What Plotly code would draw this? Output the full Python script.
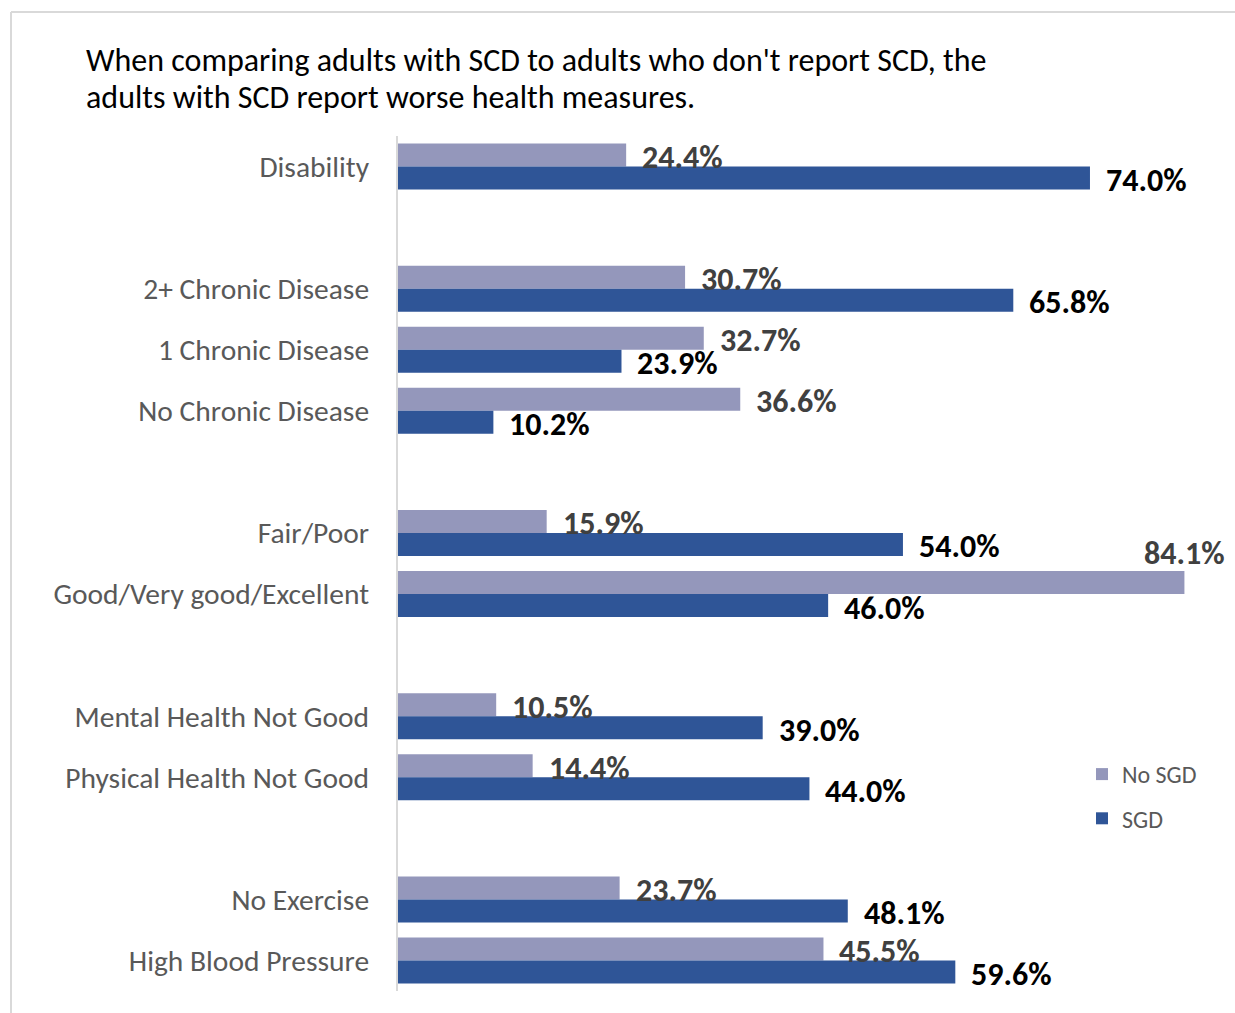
import plotly.graph_objects as go

# Health measures, grouped; a blank row separates each group
groups = [
    ["Disability"],
    ["2+ Chronic Disease", "1 Chronic Disease", "No Chronic Disease"],
    ["Fair/Poor", "Good/Very good/Excellent"],
    ["Mental Health Not Good", "Physical Health Not Good"],
    ["No Exercise", "High Blood Pressure"],
]
no_sgd = [24.4, 30.7, 32.7, 36.6, 15.9, 84.1, 10.5, 14.4, 23.7, 45.5]
sgd = [74.0, 65.8, 23.9, 10.2, 54.0, 46.0, 39.0, 44.0, 48.1, 59.6]
series_names = ["No SGD", "SGD"]
series_colors = ["#9497BB", "#2F5597"]
label_colors = ["#404040", "#000000"]

title_lines = [
    "When comparing adults with SCD to adults who don't report SCD, the",
    "adults with SCD report worse health measures.",
]

# row index for each category, leaving one empty row between groups
categories, rows = [], []
r = 0
for g in groups:
    for name in g:
        categories.append(name)
        rows.append(r)
        r += 1
    r += 1
last_row = rows[-1]

W, H = 1235, 1013
L, R, T, B = 398, 0, 136, 22
plot_w = W - L - R
plot_h = H - T - B
x_max = plot_w / 9.351

FONT = "Calibri, Carlito, Lato, sans-serif"
LABEL_SIZE = 32


def px_x(px):
    return (px - L) / plot_w


def px_y(py):
    return 1 - (py - T) / plot_h


fig = go.Figure()
for name, vals, col in zip(series_names, [no_sgd, sgd], series_colors):
    fig.add_trace(go.Bar(
        y=rows, x=vals, name=name, orientation="h",
        marker=dict(color=col, line=dict(width=0)),
        legendgroup=name, hoverinfo="skip",
    ))

annotations = []
for si, vals in enumerate([no_sgd, sgd]):
    for yr, v in zip(rows, vals):
        txt = f"{v:.1f}%"
        if v > 0.9 * x_max:
            # no room to the right: centre the label above the bar end
            annotations.append(dict(
                x=v, y=yr, xref="x", yref="y", text=f"<b>{txt}</b>",
                showarrow=False, xanchor="center", yanchor="middle",
                yshift=41, font=dict(family=FONT, size=LABEL_SIZE, color=label_colors[si]),
            ))
        else:
            annotations.append(dict(
                x=v, y=yr, xref="x", yref="y", text=f"<b>{txt}</b>",
                showarrow=False, xanchor="left", yanchor="middle",
                xshift=14, yshift=9 if si == 0 else -14,
                font=dict(family=FONT, size=LABEL_SIZE, color=label_colors[si]),
            ))

# two-line heading, one line per annotation for tighter leading
for line, cy in zip(title_lines, [60, 98]):
    annotations.append(dict(
        x=px_x(84), y=px_y(cy), xref="paper", yref="paper", text=line,
        showarrow=False, xanchor="left", yanchor="middle", align="left",
        font=dict(family=FONT, size=32, color="#000000"),
    ))

shapes = [
    dict(type="line", xref="paper", yref="paper", x0=px_x(11), x1=px_x(W + 5),
         y0=px_y(12), y1=px_y(12), line=dict(color="#D9D9D9", width=2)),
    dict(type="line", xref="paper", yref="paper", x0=px_x(11), x1=px_x(11),
         y0=px_y(12), y1=px_y(H + 5), line=dict(color="#D9D9D9", width=2)),
]

fig.update_layout(
    width=W, height=H,
    margin=dict(l=L, r=R, t=T, b=B, pad=0),
    paper_bgcolor="white", plot_bgcolor="white",
    barmode="group", bargap=0.247, bargroupgap=0,
    showlegend=True,
    legend=dict(
        x=px_x(1082), y=px_y(752), xanchor="left", yanchor="top",
        traceorder="grouped", tracegroupgap=10,
        font=dict(family=FONT, size=24, color="#595959"),
        bgcolor="rgba(0,0,0,0)",
    ),
    xaxis=dict(range=[0, x_max], showgrid=False, zeroline=False,
               showticklabels=False, showline=False, fixedrange=True),
    yaxis=dict(range=[last_row + 0.5, -0.5], tickmode="array", tickvals=rows,
               ticktext=categories, showgrid=False, zeroline=False,
               showline=True, linecolor="#D9D9D9", linewidth=2,
               ticks="", ticklabelstandoff=21,
               tickfont=dict(family=FONT, size=29.5, color="#595959")),
    annotations=annotations,
    shapes=shapes,
)

fig.write_html("out.html")
